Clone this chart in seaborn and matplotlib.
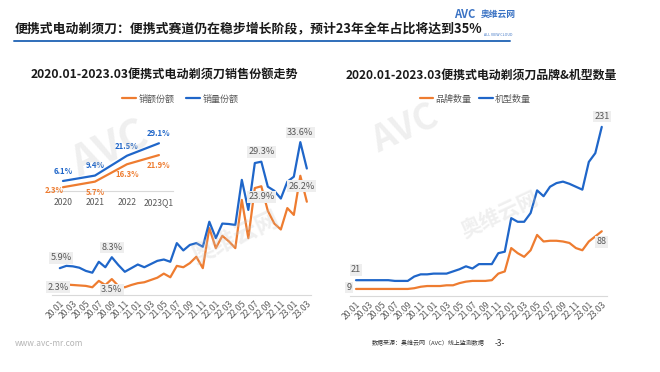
import pandas as pd
import matplotlib
matplotlib.use('Agg')
import matplotlib.pyplot as plt
from matplotlib.lines import Line2D
import seaborn as sns

# month labels 20.01 ... 23.03
months = [f'{y}.{m:02d}' for y in (20, 21, 22) for m in range(1, 13)] + ['23.01', '23.02', '23.03']

# left chart: share of portable shavers (%)
amt_share = [2.3, 2.3, 2.2, 2.1, 2.0, 1.7, 3.1, 2.2, 3.5, 2.0,
             1.7, 2.2, 2.6, 2.8, 3.3, 3.8, 4.7, 3.9, 6.4, 6.1,
             7.0, 8.4, 5.9, 14.7, 10.3, 13.0, 11.8, 10.3, 20.9, 12.5,
             23.5, 23.9, 18.5, 15.7, 14.4, 19.1, 17.6, 26.2, 20.5]
vol_share = [5.9, 6.4, 6.3, 6.0, 5.3, 4.9, 7.3, 6.1, 8.3, 6.6,
             5.1, 5.9, 6.7, 6.1, 6.8, 7.5, 7.8, 7.3, 11.4, 9.8,
             11.0, 11.4, 10.6, 16.1, 12.5, 15.7, 15.6, 15.4, 25.3, 18.7,
             29.0, 29.3, 23.8, 22.9, 21.2, 24.9, 26.0, 33.6, 27.8]

# inset: yearly share
years = ['2020', '2021', '2022', '2023Q1']
year_amt = [2.3, 5.7, 16.3, 21.9]
year_vol = [6.1, 9.4, 21.5, 29.1]

# right chart: number of brands / models
brands = [9, 9, 9, 9, 9, 9, 9, 9, 9, 10,
          12, 13, 13, 13, 14, 14, 17, 19, 20, 20,
          20, 21, 30, 33, 65, 58, 53, 62, 83, 74,
          75, 75, 74, 72, 65, 62, 74, 81, 88]
models = [21, 21, 21, 21, 21, 21, 20, 20, 20, 26,
          29, 29, 30, 30, 30, 33, 36, 40, 37, 43,
          43, 43, 58, 60, 106, 101, 101, 113, 144, 136,
          149, 154, 156, 153, 149, 145, 183, 195, 231]

BLUE = '#1f66c9'
ORANGE = '#ee7c30'
GRAY = '#595959'

sns.set_theme(style='white')
plt.rcParams['font.family'] = ['Noto Sans CJK SC', 'DejaVu Sans']
plt.rcParams['axes.unicode_minus'] = False

n = len(months)
share_df = pd.DataFrame({'idx': list(range(n)) * 2,
                         'value': amt_share + vol_share,
                         'series': ['销额份额'] * n + ['销量份额'] * n})
count_df = pd.DataFrame({'idx': list(range(n)) * 2,
                         'value': brands + models,
                         'series': ['品牌数量'] * n + ['机型数量'] * n})
year_df = pd.DataFrame({'idx': list(range(len(years))) * 2,
                        'value': year_amt + year_vol,
                        'series': ['销额份额'] * len(years) + ['销量份额'] * len(years)})

fig = plt.figure(figsize=(6.6, 3.72), dpi=100)


def style_axis(ax):
    for s in ['top', 'right', 'left']:
        ax.spines[s].set_visible(False)
    ax.spines['bottom'].set_color('#d9d9d9')
    ax.spines['bottom'].set_linewidth(0.8)
    ax.set_yticks([])
    ax.set_xlabel('')
    ax.set_ylabel('')
    ax.tick_params(axis='x', length=0, pad=3)


def tag(ax, x, y, s, dy, dx=0, ha='center'):
    ax.annotate(s, (x, y), xytext=(dx, dy), textcoords='offset points',
                ha=ha, va='center', fontsize=6.6, color=GRAY, zorder=5,
                bbox=dict(boxstyle='square,pad=0.15', fc='#eeeeee', ec='none'))


# ---- left: monthly share ----
ax1 = fig.add_axes([0.0788, 0.207, 0.392, 0.4403])
sns.lineplot(data=share_df, x='idx', y='value', hue='series',
             hue_order=['销额份额', '销量份额'], palette=[ORANGE, BLUE],
             linewidth=1.6, ax=ax1)
ax1.set_xlim(-1.2, 38.6)
ax1.set_ylim(0, 36)
style_axis(ax1)
ax1.set_xticks(range(0, n, 2))
ax1.set_xticklabels(months[::2], rotation=45, ha='right', va='top',
                    rotation_mode='anchor', fontsize=6.2, color=GRAY)
sns.move_legend(ax1, 'center', bbox_to_anchor=(0.496, 1.197), ncol=2,
                title=None, frameon=False, fontsize=6.5, handlelength=1.5,
                columnspacing=1.3, handletextpad=0.3)
for t in ax1.get_legend().get_texts():
    t.set_color(GRAY)

tag(ax1, 0, vol_share[0], '5.9%', 7.5, dx=1)
tag(ax1, 0, amt_share[0], '2.3%', -2, dx=-1)
tag(ax1, 8, vol_share[8], '8.3%', 7)
tag(ax1, 8, amt_share[8], '3.5%', -7.5)
tag(ax1, 31, vol_share[31], '29.3%', 7)
tag(ax1, 31, amt_share[31], '23.9%', -7.5)
tag(ax1, 37, vol_share[37], '33.6%', 7)
tag(ax1, 37, amt_share[37], '26.2%', -7.5, dx=1)

# inset: yearly share
axi = fig.add_axes([0.0736, 0.4866, 0.189, 0.141])
axi.set_facecolor('none')
sns.lineplot(data=year_df, x='idx', y='value', hue='series',
             hue_order=['销额份额', '销量份额'], palette=[ORANGE, BLUE],
             linewidth=1.6, legend=False, ax=axi)
axi.set_xlim(-0.45, 3.45)
axi.set_ylim(0, 32)
style_axis(axi)
axi.set_xticks(range(len(years)))
axi.set_xticklabels(years, fontsize=6.2, color=GRAY)
axi.tick_params(axis='x', pad=5)
for i in range(len(years)):
    axi.annotate(f'{year_vol[i]}%', (i, year_vol[i]), xytext=(0, 7),
                 textcoords='offset points', ha='center', va='center',
                 fontsize=5.6, fontweight='bold', color=BLUE)
    axi.annotate(f'{year_amt[i]}%', (i, year_amt[i]),
                 xytext=(-6 if i == 0 else 0, -2.2 if i == 0 else -7.5),
                 textcoords='offset points', ha='center', va='center',
                 fontsize=5.6, fontweight='bold', color=ORANGE)

# ---- right: brand / model counts ----
ax2 = fig.add_axes([0.5306, 0.2056, 0.389, 0.471])
sns.lineplot(data=count_df, x='idx', y='value', hue='series',
             hue_order=['品牌数量', '机型数量'], palette=[ORANGE, BLUE],
             linewidth=1.6, ax=ax2)
ax2.set_xlim(-0.9, 38.8)
ax2.set_ylim(0, 240)
style_axis(ax2)
ax2.set_xticks(range(0, n, 2))
ax2.set_xticklabels(months[::2], rotation=45, ha='right', va='top',
                    rotation_mode='anchor', fontsize=6.2, color=GRAY)
sns.move_legend(ax2, 'center', bbox_to_anchor=(0.486, 1.1216), ncol=2,
                title=None, frameon=False, fontsize=6.5, handlelength=1.5,
                columnspacing=0.9, handletextpad=0.2)
for t in ax2.get_legend().get_texts():
    t.set_color(GRAY)

tag(ax2, 0, models[0], '21', 7.5)
tag(ax2, 0, brands[0], '9', 1, dx=-3, ha='right')
tag(ax2, n - 1, models[-1], '231', 7.5)
tag(ax2, n - 1, brands[-1], '88', -7.5)

# ---- titles, header, footer ----
fig.text(15 / 660, 1 - 28 / 372,
         '便携式电动剃须刀：便携式赛道仍在稳步增长阶段，预计23年全年占比将达到35%',
         fontsize=9.25, fontweight='bold', color='#1a1a1a', va='center', zorder=4)
fig.add_artist(Line2D([14 / 660, 510 / 660], [1 - 41 / 372, 1 - 41 / 372],
                      color='#2f6eba', linewidth=1.4))
fig.text(465 / 660, 1 - 14 / 372, 'AVC', fontsize=8, fontweight='bold',
         fontstyle='italic', color='#3b73c4', ha='center', va='center', zorder=2)
fig.text(498 / 660, 1 - 14 / 372, '奥维云网', fontsize=6.3, fontweight='bold',
         color='#3b73c4', ha='center', va='center', zorder=2)
fig.text(498 / 660, 1 - 35 / 372, 'ALL VIEW CLOUD', fontsize=2.6,
         color='#3b73c4', ha='center', va='center', zorder=2)

fig.text(164 / 660, 1 - 75 / 372, '2020.01-2023.03便携式电动剃须刀销售份额走势',
         fontsize=8.7, fontweight='bold', color='#1a1a1a', ha='center', va='center')
fig.text(481 / 660, 1 - 75 / 372, '2020.01-2023.03便携式电动剃须刀品牌&机型数量',
         fontsize=8.6, fontweight='bold', color='#1a1a1a', ha='center', va='center')

# faint watermarks
for (x, y, s, fs) in [(110, 150, 'AVC', 30), (235, 238, '奥维云网', 17),
                      (405, 128, 'AVC', 26), (500, 215, '奥维云网', 15)]:
    fig.text(x / 660, 1 - y / 372, s, fontsize=fs, fontweight='bold',
             fontstyle='italic' if s == 'AVC' else 'normal',
             color='#c8c8c8', alpha=0.28, rotation=25,
             ha='center', va='center', zorder=6)

fig.text(15 / 660, 1 - 343 / 372, 'www.avc-mr.com', fontsize=6,
         color='#b5b5b5', va='center')
fig.text(485 / 660, 1 - 343 / 372, '数据来源：奥维云网（AVC）线上监测数据',
         fontsize=4.3, color='#333333', ha='right', va='center')
fig.text(500 / 660, 1 - 343 / 372, '-3-', fontsize=6, color='#333333',
         ha='center', va='center')

fig.savefig('out.png', dpi=100)
